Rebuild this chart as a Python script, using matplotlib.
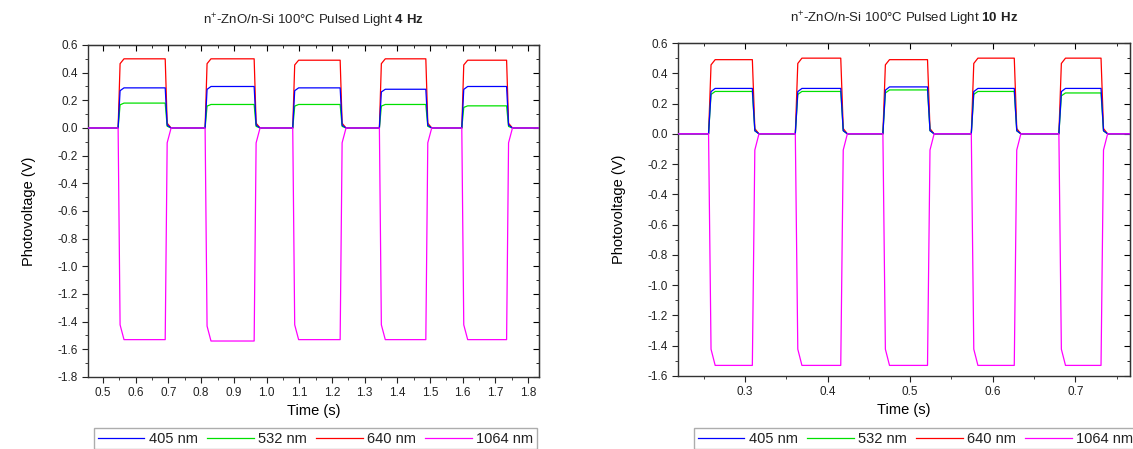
import numpy as np
import matplotlib
matplotlib.use("Agg")
import matplotlib.pyplot as plt
from matplotlib.ticker import MultipleLocator

plt.rcParams['font.family'] = ['Liberation Sans', 'DejaVu Sans']
plt.rcParams['mathtext.fontset'] = 'custom'
plt.rcParams['mathtext.rm'] = 'Liberation Sans'
plt.rcParams['mathtext.bf'] = 'Liberation Sans:bold'
plt.rcParams['text.color'] = '#222222'

labels = ["405 nm", "532 nm", "640 nm", "1064 nm"]
colors = ["#0000ff", "#00e000", "#ff0000", "#ff00ff"]
zorders = [4, 3, 2, 5]

# 4 Hz: light on / off times (s)
on_4hz = [0.546, 0.812, 1.080, 1.345, 1.597]
off_4hz = [0.690, 0.962, 1.225, 1.487, 1.734]
lvl_4hz = {
    "405 nm": [0.29, 0.30, 0.29, 0.28, 0.30],
    "532 nm": [0.18, 0.17, 0.17, 0.17, 0.16],
    "640 nm": [0.50, 0.50, 0.49, 0.50, 0.49],
    "1064 nm": [-1.53, -1.54, -1.53, -1.53, -1.53],
}

# 10 Hz
on_10hz = [0.256, 0.361, 0.467, 0.574, 0.680]
off_10hz = [0.309, 0.416, 0.521, 0.626, 0.731]
lvl_10hz = {
    "405 nm": [0.30, 0.30, 0.31, 0.30, 0.30],
    "532 nm": [0.28, 0.28, 0.29, 0.28, 0.27],
    "640 nm": [0.49, 0.50, 0.49, 0.50, 0.50],
    "1064 nm": [-1.53, -1.53, -1.53, -1.53, -1.53],
}


def wave(t0, t1, on, off, lvl, ramp, settle):
    xs = [t0]
    ys = [0.0]
    for a, b, l in zip(on, off, lvl):
        xs += [a, a + ramp, a + settle, b, b + ramp, b + settle]
        ys += [0.0, 0.93 * l, l, l, 0.07 * l, 0.0]
    xs.append(t1)
    ys.append(0.0)
    return xs, ys


def panel(ax, on, off, lvls, xlim, ylim, title, ramp, settle):
    for lab, c, z in zip(labels, colors, zorders):
        x, y = wave(xlim[0], xlim[1], on, off, lvls[lab], ramp, settle)
        ax.plot(x, y, color=c, lw=0.9, label=lab, zorder=z)
    ax.set_xlim(*xlim)
    ax.set_ylim(*ylim)
    ax.set_title(title, fontsize=9.5, pad=15)
    ax.set_xlabel("Time (s)", fontsize=10.5, labelpad=3)
    ax.set_ylabel("Photovoltage (V)", fontsize=10.5, labelpad=15)
    ax.yaxis.set_major_locator(MultipleLocator(0.2))
    ax.yaxis.set_minor_locator(MultipleLocator(0.1))
    ax.xaxis.set_major_locator(MultipleLocator(0.1))
    ax.xaxis.set_minor_locator(MultipleLocator(0.05))
    ax.yaxis.set_major_formatter(lambda v, p: f"{v:.1f}".replace("-0.0", "0.0"))
    ax.tick_params(which='both', direction='out', labelsize=8.5, colors='#222222')
    ax.tick_params(which='major', length=4)
    ax.tick_params(which='minor', length=2)
    for s in ax.spines.values():
        s.set_linewidth(1.0)
        s.set_color('#333333')
    top = ax.secondary_xaxis('top')
    top.xaxis.set_major_locator(MultipleLocator(0.1))
    top.xaxis.set_minor_locator(MultipleLocator(0.05))
    top.tick_params(which='both', direction='in', labeltop=False)
    top.tick_params(which='major', length=4)
    top.tick_params(which='minor', length=2)
    right = ax.secondary_yaxis('right')
    right.yaxis.set_major_locator(MultipleLocator(0.2))
    right.yaxis.set_minor_locator(MultipleLocator(0.1))
    right.tick_params(which='both', direction='in', labelright=False)
    right.tick_params(which='major', length=4)
    right.tick_params(which='minor', length=2)


fig = plt.figure(figsize=(11.33, 4.49), dpi=100)
ax1 = fig.add_axes([0.0777, 0.1604, 0.398, 0.7394])
ax2 = fig.add_axes([0.5984, 0.1626, 0.3989, 0.7416])

panel(ax1, on_4hz, off_4hz, lvl_4hz, (0.454, 1.833), (-1.8, 0.6),
      r"n$^{+}$-ZnO/n-Si 100°C Pulsed Light $\mathbf{4\ Hz}$", 0.006, 0.018)
panel(ax2, on_10hz, off_10hz, lvl_10hz, (0.219, 0.766), (-1.6, 0.6),
      r"n$^{+}$-ZnO/n-Si 100°C Pulsed Light $\mathbf{10\ Hz}$", 0.003, 0.008)

for ax, x0 in [(ax1, 94), (ax2, 694)]:
    h, l = ax.get_legend_handles_labels()
    fig.legend(h, l, loc='upper left', ncol=4, mode='expand',
               bbox_to_anchor=(x0 / 1133, 0.0, 443 / 1133, 1 - 428 / 449),
               fontsize=10.5, frameon=True, fancybox=False, edgecolor='#999999',
               handlelength=3.2, handletextpad=0.3, columnspacing=0.6,
               borderpad=0.25, borderaxespad=0.0)

fig.savefig("out.png", dpi=100)
